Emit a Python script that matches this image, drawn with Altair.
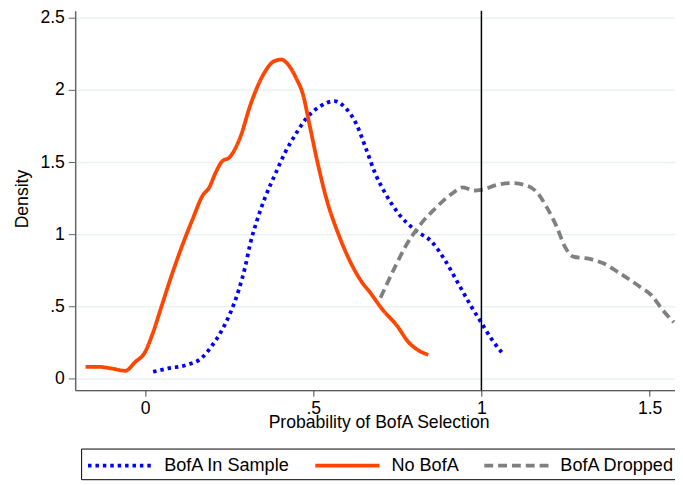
import altair as alt
import pandas as pd

series_names = ["BofA In Sample", "No BofA", "BofA Dropped"]
series_colors = ["#0000FF", "#FF4500", "#808080"]

in_sample_x = [0.024, 0.068, 0.127, 0.166, 0.196, 0.225, 0.254, 0.279, 0.298, 0.313,
               0.333, 0.357, 0.387, 0.416, 0.450, 0.480, 0.519, 0.563, 0.597, 0.627,
               0.656, 0.685, 0.715, 0.754, 0.803, 0.852, 0.891, 0.930, 0.969, 0.999,
               1.033, 1.062]
in_sample_y = [0.046, 0.069, 0.096, 0.137, 0.217, 0.320, 0.457, 0.617, 0.777, 0.937,
               1.097, 1.256, 1.417, 1.565, 1.702, 1.805, 1.885, 1.924, 1.873, 1.770,
               1.599, 1.417, 1.280, 1.142, 1.028, 0.948, 0.822, 0.663, 0.502, 0.389,
               0.263, 0.176]

no_bofa_x = [-0.177, -0.137, -0.098, -0.059, -0.029, 0.000, 0.024, 0.049, 0.078, 0.113,
             0.142, 0.171, 0.191, 0.210, 0.230, 0.250, 0.264, 0.284, 0.313, 0.353,
             0.382, 0.406, 0.421, 0.450, 0.470, 0.489, 0.514, 0.538, 0.578, 0.617,
             0.646, 0.666, 0.705, 0.749, 0.783, 0.813, 0.842]
no_bofa_y = [0.080, 0.080, 0.068, 0.053, 0.114, 0.183, 0.320, 0.500, 0.708, 0.937,
             1.108, 1.268, 1.325, 1.428, 1.508, 1.531, 1.576, 1.679, 1.896, 2.113,
             2.198, 2.212, 2.188, 2.079, 1.965, 1.759, 1.485, 1.256, 0.982, 0.777,
             0.663, 0.605, 0.480, 0.365, 0.252, 0.194, 0.164]

dropped_x = [0.700, 0.744, 0.774, 0.813, 0.862, 0.911, 0.945, 0.979, 0.999, 1.048,
             1.087, 1.126, 1.165, 1.194, 1.224, 1.248, 1.273, 1.322, 1.361, 1.410,
             1.469, 1.508, 1.537, 1.572]
dropped_y = [0.560, 0.777, 0.914, 1.051, 1.177, 1.279, 1.325, 1.302, 1.307, 1.343,
             1.355, 1.343, 1.291, 1.188, 1.051, 0.914, 0.845, 0.829, 0.800, 0.731,
             0.639, 0.571, 0.480, 0.389]

x_ticks = [0, 0.5, 1, 1.5]
y_ticks = [0, 0.5, 1, 1.5, 2, 2.5]
ref_x = [1]

rows = []
for name, xs, ys in [(series_names[0], in_sample_x, in_sample_y),
                     (series_names[1], no_bofa_x, no_bofa_y),
                     (series_names[2], dropped_x, dropped_y)]:
    for i, (xv, yv) in enumerate(zip(xs, ys)):
        rows.append({"series": name, "x": xv, "y": yv, "order": i})
df = pd.DataFrame(rows)

FONT = "Liberation Sans"
FS = 17.8
LFS = 18.3

x_scale = alt.Scale(domain=[-0.2077, 1.5755], nice=False, zero=False)
y_scale = alt.Scale(domain=[-0.0823, 2.5497], nice=False, zero=False)

label_expr = "datum.value == 0.5 ? '.5' : format(datum.value, '~g')"


def make_legend():
    return alt.Legend(
        title=None, orient="none", legendX=6, legendY=443,
        direction="horizontal", columns=3,
        symbolType="M-1,0L5.5,0", symbolSize=400,
        symbolStrokeWidth=3.8, labelOffset=55,
        columnPadding=17, padding=5,
        strokeColor="black", labelFontSize=LFS,
        labelFont=FONT, labelColor="black",
    )


lines = alt.Chart(df).mark_line(strokeWidth=3.8, interpolate="monotone", clip=True).encode(
    x=alt.X("x:Q", scale=x_scale,
            axis=alt.Axis(values=x_ticks, title="Probability of BofA Selection",
                          labelExpr=label_expr, grid=False, tickSize=6, labelPadding=4,
                          domainColor="#222222", tickColor="#444444",
                          titleX=307, titleY=38, titleBaseline="alphabetic")),
    y=alt.Y("y:Q", scale=y_scale,
            axis=alt.Axis(values=y_ticks, title="Density", labelExpr=label_expr,
                          grid=True, gridColor="#EAF2F3", gridWidth=1.5,
                          tickSize=7, labelPadding=4, domainColor="#666666",
                          domainWidth=1.5, tickColor="#666666",
                          titleAngle=270, titleX=-48, titleY=190,
                          titleBaseline="alphabetic", titleAlign="center")),
    color=alt.Color("series:N",
                    scale=alt.Scale(domain=series_names, range=series_colors),
                    legend=make_legend()),
    strokeDash=alt.StrokeDash("series:N",
                              scale=alt.Scale(domain=series_names,
                                              range=[[3.5, 4], [1, 0], [9, 5]]),
                              legend=make_legend()),
    order="order:Q",
)

rule_df = pd.DataFrame({"x": ref_x})
rule = alt.Chart(rule_df).mark_rule(color="black", strokeWidth=1.5).encode(
    x=alt.X("x:Q", scale=x_scale)
)

chart = alt.layer(lines, rule).properties(
    width=607, height=384,
    autosize=alt.AutoSizeParams(type="none"),
    padding={"left": 68, "top": 0, "right": 0, "bottom": 91},
).configure_view(stroke=None).configure_axis(
    labelFont=FONT, labelFontSize=FS, labelColor="black",
    titleFont=FONT, titleFontSize=FS, titleColor="black", titleFontWeight="normal",
)

chart.save("out.html", embed_options={"renderer": "svg", "actions": False})
